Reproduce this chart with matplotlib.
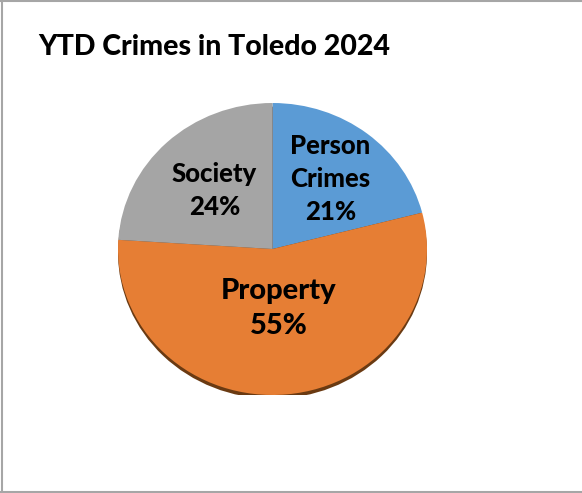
import matplotlib
matplotlib.use("Agg")
import matplotlib.pyplot as plt
import numpy as np
from matplotlib.patches import Ellipse
from matplotlib.lines import Line2D

categories = ["Person\nCrimes", "Property", "Society"]
values = [21, 55, 24]
colors = ["#5B9BD5", "#E67E34", "#A5A5A5"]
label_dist = [0.61, 0.41, 0.55]
label_sizes = [18.5, 21, 18.5]
title = "YTD Crimes in Toledo 2024"

W, H = 582, 493
dpi = 100
fig = plt.figure(figsize=(W / dpi, H / dpi), dpi=dpi)
fig.patch.set_facecolor("white")

font = ["Lato", "DejaVu Sans"]

# border (left, top, bottom)
for xs, ys in [([1.5 / W, 1.5 / W], [0, 1]),
               ([0, 1], [1 - 1 / H, 1 - 1 / H]),
               ([0, 1], [1.5 / H, 1.5 / H])]:
    fig.add_artist(Line2D(xs, ys, color="#A6A6A6", lw=1.5, transform=fig.transFigure))

# pie axes (ellipse box)
left, right, top, bottom = 118, 427, 103, 395
ax = fig.add_axes([left / W, (H - bottom) / H, (right - left) / W, (bottom - top) / H])

# shadow
ax.add_patch(Ellipse((0, -0.025), 2.0, 2.0, facecolor="#6A3A12", edgecolor="none", zorder=0))

wedges, _ = ax.pie(values, colors=colors, startangle=90, counterclock=False,
                   wedgeprops=dict(edgecolor="none", linewidth=0))
for w in wedges:
    w.set_zorder(1)

for w, lab, v, d, fs in zip(wedges, categories, values, label_dist, label_sizes):
    ang = np.deg2rad((w.theta1 + w.theta2) / 2)
    ax.text(d * np.cos(ang), d * np.sin(ang), f"{lab}\n{v}%", ha="center", va="center",
            fontsize=fs, fontweight="black", family=font, color="black",
            linespacing=1.45, zorder=3)

ax.set_aspect("auto")
ax.set_xlim(-1, 1)
ax.set_ylim(-1, 1)
ax.axis("off")

fig.text(38 / W, 1 - 47 / H, title, ha="left", va="center", fontsize=20.5,
         fontweight="black", family=font, color="black")

fig.savefig("out.png", dpi=dpi)
